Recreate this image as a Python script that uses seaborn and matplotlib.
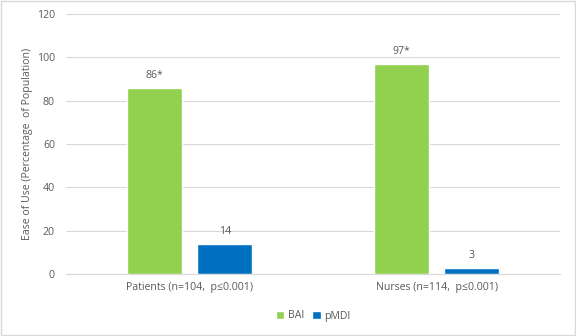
import matplotlib
matplotlib.use("Agg")
import matplotlib.pyplot as plt
import seaborn as sns
import pandas as pd

groups = ["Patients (n=104,  p≤0.001)", "Nurses (n=114,  p≤0.001)"]
devices = ["BAI", "pMDI"]
bai = [86, 97]
pmdi = [14, 3]
labels_bai = ["86*", "97*"]
labels_pmdi = ["14", "3"]

df = pd.DataFrame({
    "group": groups * 2,
    "device": [devices[0]] * 2 + [devices[1]] * 2,
    "value": bai + pmdi,
    "label": labels_bai + labels_pmdi,
})

sns.set_theme(style="white")
plt.rcParams["font.family"] = ["Open Sans", "DejaVu Sans"]
text_col = "#595959"
fs = 7.6

fig = plt.figure(figsize=(5.76, 3.36), dpi=100)
ax = fig.add_axes([66 / 576, 1 - 274 / 336, (560 - 66) / 576, (274 - 14) / 336])

sns.barplot(data=df, x="group", y="value", hue="device", order=groups,
            hue_order=devices, palette=["#92D050", "#0070C0"],
            width=0.57, gap=0.22, saturation=1, ax=ax, legend=True)

for cont, lab in zip(ax.containers, [labels_bai, labels_pmdi]):
    ax.bar_label(cont, labels=lab, padding=5, fontsize=fs, color=text_col)

ax.set_xlim(-0.5, 1.5)
ax.set_ylim(0, 120)
ax.set_yticks(range(0, 121, 20))
ax.yaxis.grid(True, color="#d9d9d9", linewidth=0.8)
ax.set_axisbelow(True)
for s in ["top", "right", "left"]:
    ax.spines[s].set_visible(False)
ax.spines["bottom"].set_color("#d9d9d9")
ax.spines["bottom"].set_linewidth(0.8)
ax.tick_params(axis="both", length=0, labelsize=fs, colors=text_col)
ax.tick_params(axis="y", pad=8)
ax.tick_params(axis="x", pad=6)
ax.set_xlabel("")
ax.set_ylabel("Ease of Use (Percentage  of Population)", fontsize=fs, color=text_col)
ax.yaxis.set_label_coords(-33 / 494, 0.5)

ax.legend(loc="center", bbox_to_anchor=(0.5, -(316 - 274) / 260), ncol=2, frameon=False,
          fontsize=fs, labelcolor=text_col, handlelength=0.8, handleheight=0.8,
          handletextpad=0.3, columnspacing=0.8)

fig.patches.append(plt.Rectangle((0.001, 0.002), 0.997, 0.996, transform=fig.transFigure,
                                 fill=False, edgecolor="#d9d9d9", linewidth=1))

fig.savefig("out.png", dpi=100)
